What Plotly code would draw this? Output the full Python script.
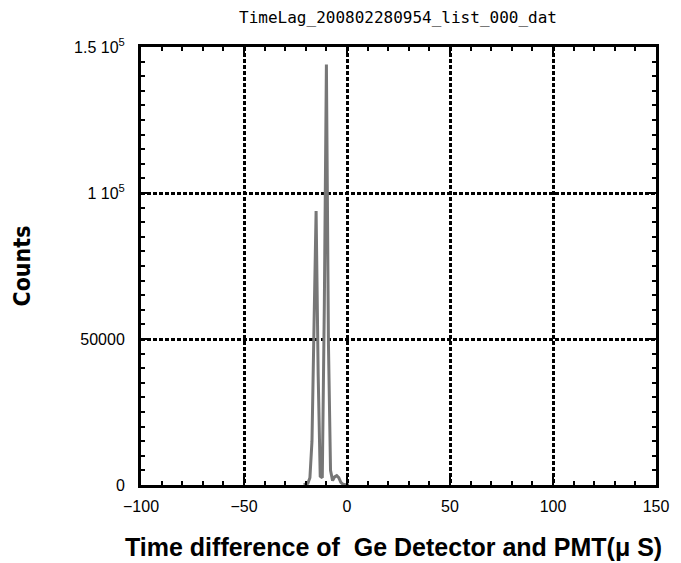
import plotly.graph_objects as go

time_us = [-21, -20, -19, -18, -17, -16, -15, -14, -13, -12, -11, -10, -9, -8, -7, -6, -5, -4, -3, -2, -1, 0, 1]
counts = [0, 200, 600, 2500, 15000, 55000, 93800, 38000, 3000, 2500, 62000, 144000, 48000, 5000, 1500, 2800, 3200, 2500, 900, 300, 100, 0, 0]

y_tickvals = [0, 50000, 100000, 150000]
y_ticktext = ["0", "50000", "1 10<sup>5</sup>", "1.5 10<sup>5</sup>"]
x_tickvals = [-100, -50, 0, 50, 100, 150]
x_ticktext = ["\u2212100", "\u221250", "0", "50", "100", "150"]

fig = go.Figure()
fig.add_trace(go.Scatter(x=time_us, y=counts, mode="lines",
                         line=dict(color="#777777", width=3), showlegend=False))

fig.update_layout(
    width=681, height=563,
    margin=dict(l=129, r=33, t=39, b=86),
    paper_bgcolor="white", plot_bgcolor="white",
    title=dict(text="TimeLag_200802280954_list_000_dat", x=0.5727, xanchor="center",
               y=0.983, yanchor="middle",
               font=dict(family="DejaVu Sans Mono", size=16, color="black")),
)
fig.add_annotation(text="Time difference of  Ge Detector and PMT(\u03bc S)",
                   xref="paper", yref="paper", x=0.49, y=-0.142,
                   xanchor="center", yanchor="middle", showarrow=False,
                   font=dict(family="Liberation Sans", size=25, color="black", weight="bold"))
fig.update_xaxes(
    range=[-100, 150], tickvals=x_tickvals, ticktext=x_ticktext,
    showline=True, mirror="allticks", linecolor="black", linewidth=3,
    ticks="inside", ticklen=8, tickwidth=2, tickcolor="black",
    minor=dict(dtick=10, ticks="inside", ticklen=4, tickwidth=2, tickcolor="black", showgrid=False),
    showgrid=True, gridcolor="black", gridwidth=2.5, griddash="4px,2px",
    zeroline=False, ticklabelstandoff=5,
    tickfont=dict(family="Liberation Sans", size=16, color="black"),
)
fig.update_yaxes(
    range=[0, 150000], tickvals=y_tickvals, ticktext=y_ticktext,
    showline=True, mirror="allticks", linecolor="black", linewidth=3,
    ticks="inside", ticklen=8, tickwidth=2, tickcolor="black",
    minor=dict(dtick=5000, ticks="inside", ticklen=4, tickwidth=2, tickcolor="black", showgrid=False),
    showgrid=True, gridcolor="black", gridwidth=2.5, griddash="4px,2px",
    zeroline=False, ticklabelstandoff=10,
    tickfont=dict(family="Liberation Sans", size=16, color="black"),
    title=dict(text="Counts", standoff=38,
               font=dict(family="DejaVu Sans Condensed", size=23, color="black", weight="bold")),
)
fig.write_html("out.html")
